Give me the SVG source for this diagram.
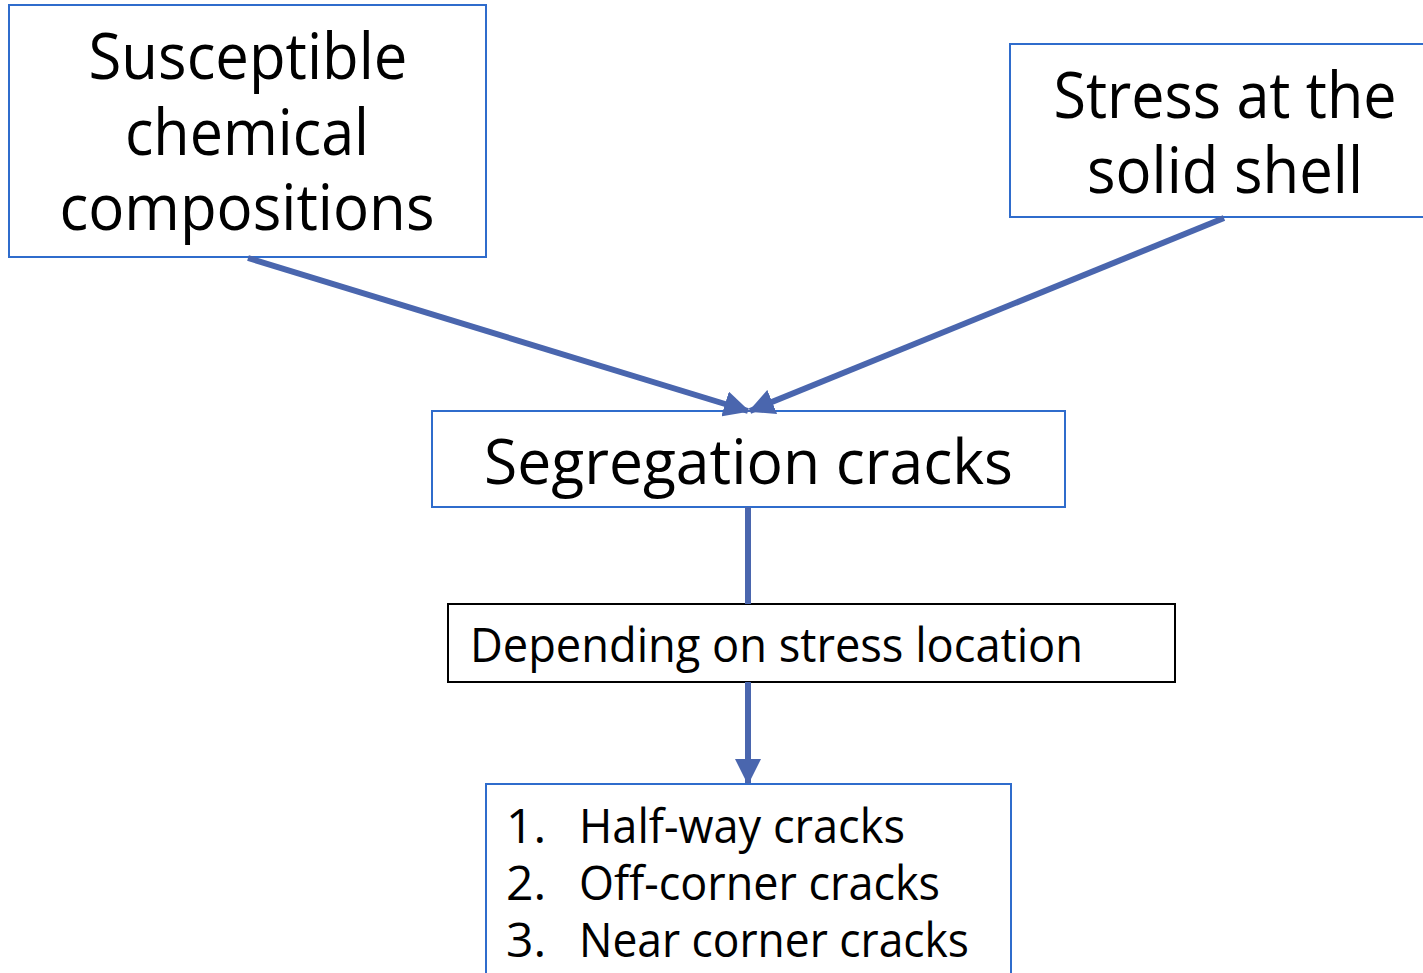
<svg xmlns="http://www.w3.org/2000/svg" width="1423" height="973" viewBox="0 0 1423 973">
<style>
.box{fill:#fff;stroke:#2f6ccc;stroke-width:2}
.bbox{fill:#fff;stroke:#000;stroke-width:2}
.t{font-family:"Open Sans","Noto Sans","Liberation Sans",sans-serif;fill:#000}
.c{fill:none;stroke:#4a66ae;stroke-width:6}
</style>
<defs>
<marker id="ah" markerUnits="userSpaceOnUse" markerWidth="26" markerHeight="26" viewBox="0 0 26 26" refX="24" refY="13" orient="auto">
<path d="M0,0 L26,13 L0,26 Z" fill="#4a66ae"/>
</marker>
</defs>
<rect width="1423" height="973" fill="#fff"/>
<g id="n1">
<rect class="box" x="9" y="5" width="477" height="252"/>
<text class="t" font-size="64" text-anchor="middle"><tspan x="248" y="79" textLength="319" lengthAdjust="spacingAndGlyphs">Susceptible</tspan><tspan x="247" y="155" textLength="244" lengthAdjust="spacingAndGlyphs">chemical</tspan><tspan x="247" y="230" textLength="375" lengthAdjust="spacingAndGlyphs">compositions</tspan></text>
</g>
<g id="n2">
<rect class="box" x="1010" y="44" width="420" height="173"/>
<text class="t" font-size="64" text-anchor="middle"><tspan x="1225" y="118" textLength="343" lengthAdjust="spacingAndGlyphs">Stress at the</tspan><tspan x="1225" y="193" textLength="276" lengthAdjust="spacingAndGlyphs">solid shell</tspan></text>
</g>
<g id="n3">
<rect class="box" x="432" y="411" width="633" height="96"/>
<text class="t" font-size="62" x="484" y="484" textLength="529" lengthAdjust="spacingAndGlyphs">Segregation cracks</text>
</g>
<g id="n4">
<rect class="bbox" x="448" y="604" width="727" height="78"/>
<text class="t" font-size="48" x="470" y="662" textLength="613" lengthAdjust="spacingAndGlyphs">Depending on stress location</text>
</g>
<g id="n5">
<rect class="box" x="486" y="784" width="525" height="200"/>
<text class="t" font-size="48"><tspan x="506" y="843">1.</tspan><tspan x="579" y="843" textLength="326" lengthAdjust="spacingAndGlyphs">Half-way cracks</tspan><tspan x="506" y="900">2.</tspan><tspan x="579" y="900" textLength="361" lengthAdjust="spacingAndGlyphs">Off-corner cracks</tspan><tspan x="506" y="957">3.</tspan><tspan x="579" y="957" textLength="390" lengthAdjust="spacingAndGlyphs">Near corner cracks</tspan></text>
</g>
<g id="connectors">
<line class="c" x1="248" y1="258" x2="748" y2="411" marker-end="url(#ah)"/>
<line class="c" x1="1224" y1="218" x2="750" y2="411" marker-end="url(#ah)"/>
<line class="c" x1="748" y1="507" x2="748" y2="604"/>
<line class="c" x1="748" y1="682" x2="748" y2="783" marker-end="url(#ah)"/>
</g>
</svg>
